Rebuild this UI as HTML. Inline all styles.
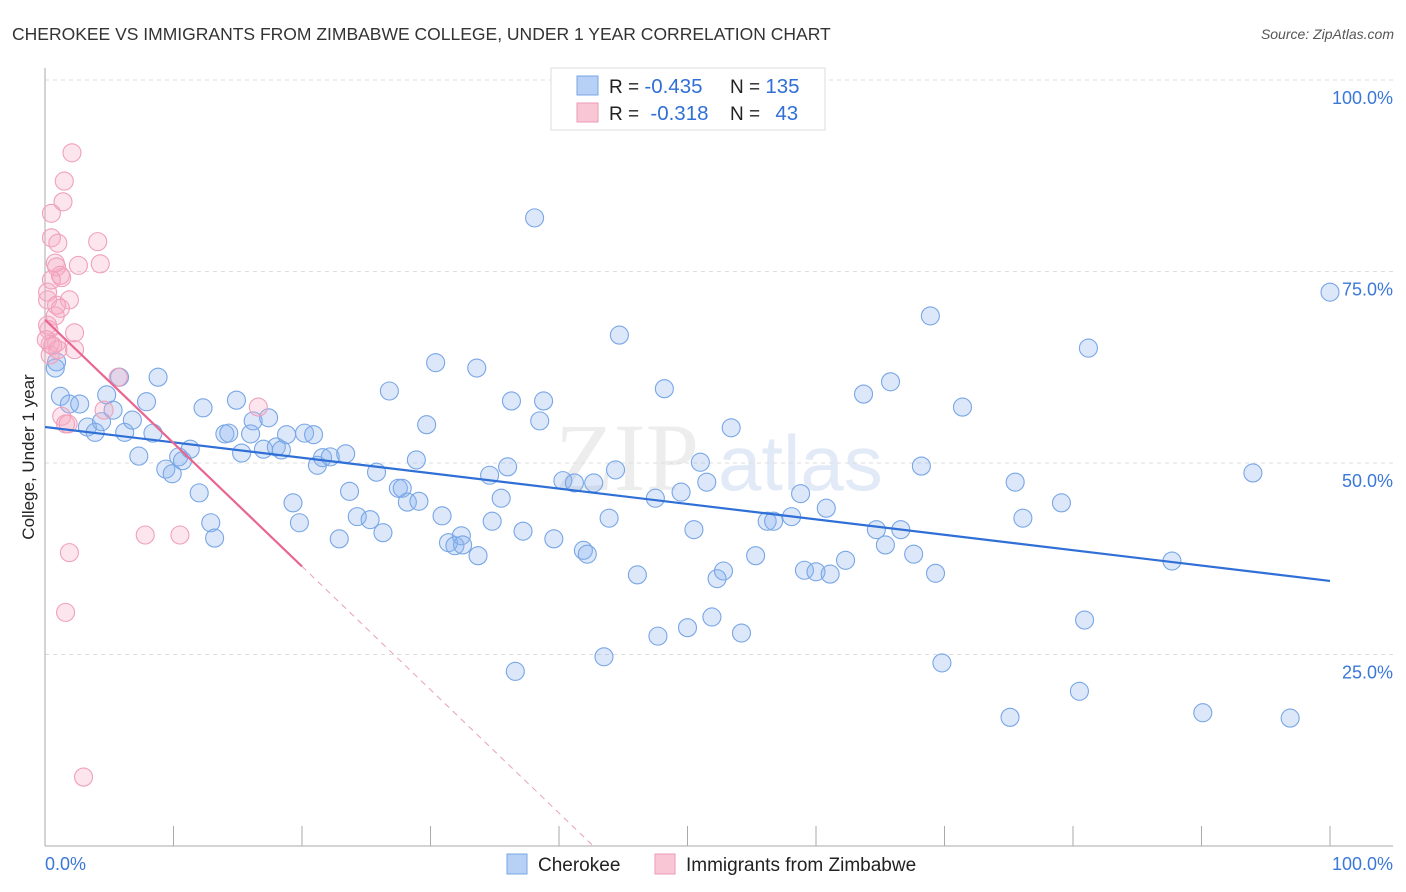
<!DOCTYPE html>
<html><head><meta charset="utf-8">
<style>
body{margin:0;background:#fff;font-family:"Liberation Sans",sans-serif;}
#wrap{position:relative;width:1406px;height:892px;overflow:hidden;}
</style></head>
<body>
<div id="wrap">
<svg id="svg" width="1406" height="892" xmlns="http://www.w3.org/2000/svg">
<text x="12" y="40" font-size="17.5" fill="#333">CHEROKEE VS IMMIGRANTS FROM ZIMBABWE COLLEGE, UNDER 1 YEAR CORRELATION CHART</text>
<text x="1394" y="39" font-size="14" fill="#555" font-style="italic" text-anchor="end">Source: ZipAtlas.com</text>
<g><text x="555" y="490" font-size="96" font-family="Liberation Serif,serif" fill="#dcdcdc" opacity="0.5">ZIP</text><text x="718" y="490" font-size="78" fill="#c4d6ee" opacity="0.5">atlas</text></g>
<g id="grid"></g>
<g id="pts"></g>
<g id="lines"></g>
<text transform="translate(34,457) rotate(-90)" font-size="17" fill="#222" text-anchor="middle">College, Under 1 year</text>
<g>
<rect x="551" y="68" width="274" height="62" fill="#fff" stroke="#ddd"/>
<rect x="577" y="76" width="21" height="19" fill="#b7d0f5" stroke="#7aa6e6"/>
<rect x="577" y="103" width="21" height="19" fill="#f9c6d5" stroke="#ee9ab5"/>
<text x="609" y="93" font-size="19" fill="#222">R = <tspan fill="#2f6fd6" font-size="20.5">-0.435</tspan></text>
<text x="730" y="93" font-size="19" fill="#222">N = <tspan fill="#2f6fd6" font-size="20.5">135</tspan></text>
<text x="609" y="120" font-size="19" fill="#222">R = <tspan fill="#2f6fd6" dx="6" font-size="20.5">-0.318</tspan></text>
<text x="730" y="120" font-size="19" fill="#222">N = <tspan fill="#2f6fd6" dx="10" font-size="20.5">43</tspan></text>
</g>
<g>
<rect x="507" y="854" width="20" height="20" fill="#b7d0f5" stroke="#7aa6e6"/>
<text x="538" y="871" font-size="19" fill="#222">Cherokee</text>
<rect x="655" y="854" width="20" height="20" fill="#f9c6d5" stroke="#ee9ab5"/>
<text x="686" y="871" font-size="19" fill="#222">Immigrants from Zimbabwe</text>
</g>
</svg>
</div>
<script>
const yTicks=[25,50,75,100];
const yTickLabels=["25.0%","50.0%","75.0%","100.0%"];
const xTicks=[0,10,20,30,40,50,60,70,80,90,100];
const xEndLabels=["0.0%","100.0%"];
const blueX=[0.8,0.9,1.2,1.9,2.7,3.3,3.9,4.4,4.8,5.3,5.8,6.2,6.8,7.3,7.9,8.4,8.8,9.4,9.9,10.4,10.7,11.3,12.0,12.3,12.9,13.2,14.0,14.3,14.9,15.3,16.0,16.2,17.0,17.4,18.0,18.4,18.8,19.3,19.8,20.2,20.9,21.2,21.6,22.2,22.9,23.4,23.7,24.3,25.3,25.8,26.3,26.8,27.5,27.8,28.2,28.9,29.1,29.7,30.4,30.9,31.4,31.9,32.4,32.5,33.6,33.7,34.6,34.8,35.5,36.0,36.3,36.6,37.2,38.1,38.5,38.8,39.6,40.3,41.2,41.9,42.2,42.7,43.5,43.9,44.4,44.7,46.1,47.5,47.7,48.2,49.5,50.0,50.5,51.0,51.5,51.9,52.3,52.8,53.4,54.2,55.3,56.2,56.7,58.1,58.8,59.1,60.0,60.8,61.1,62.3,63.7,64.7,65.4,65.8,66.6,67.6,68.2,68.9,69.3,69.8,71.4,75.1,75.5,76.1,79.1,80.5,80.9,81.2,87.7,90.1,94.0,96.9,100.0];
const blueY=[62.4,63.2,58.7,57.7,57.7,54.7,54.0,55.4,58.9,56.9,61.2,54.0,55.6,50.9,58.0,53.9,61.2,49.2,48.6,50.8,50.3,51.8,46.1,57.2,42.2,40.2,53.8,53.9,58.2,51.3,53.8,55.5,51.8,55.9,52.1,51.7,53.7,44.8,42.2,53.9,53.7,49.7,50.7,50.8,40.1,51.2,46.3,43.0,42.6,48.8,40.9,59.4,46.7,46.7,44.9,50.4,45.0,55.0,63.1,43.1,39.6,39.2,40.5,39.3,62.4,37.9,48.4,42.4,45.4,49.5,58.1,22.8,41.1,82.0,55.5,58.1,40.1,47.7,47.4,38.6,38.1,47.4,24.7,42.8,49.1,66.7,35.4,45.4,27.4,59.7,46.2,28.5,41.3,50.1,47.5,29.9,34.9,35.9,54.6,27.8,37.9,42.4,42.4,43.0,46.0,36.0,35.8,44.1,35.5,37.3,59.0,41.3,39.3,60.6,41.3,38.1,49.6,69.2,35.6,23.9,57.3,16.8,47.5,42.8,44.8,20.2,29.5,65.0,37.2,17.4,48.7,16.7,72.3];
const pinkX=[0.2,0.2,0.3,0.4,0.5,0.5,0.8,0.8,0.9,0.9,1.0,1.2,1.3,1.4,1.5,1.6,1.8,1.9,1.6,1.9,2.1,2.3,2.3,2.6,3.0,4.1,4.3,4.6,7.8,10.5,16.6,0.1,0.2,0.4,0.6,0.9,1.2,1.0,1.3,0.5,5.7];
const pinkY=[71.3,72.3,67.4,65.5,82.6,79.4,76.1,69.2,65.7,75.6,78.7,74.5,56.1,84.1,86.8,55.1,55.1,38.3,30.5,71.3,90.5,67.0,64.8,75.8,9.0,78.9,76.0,56.9,40.6,40.6,57.3,66.1,68.0,64.1,65.3,70.6,70.2,64.8,74.2,73.9,61.2];
const blueTrend=[54.7,34.6];
const pinkTrend=[68.7,-1.61];
const NS='http://www.w3.org/2000/svg';
const X0=45,X1=1330,Y0=846,Y100=80;
function sx(v){return X0+(X1-X0)*v/100;}
function sy(v){return Y0-(Y0-Y100)*v/100;}
function mk(tag,attrs,parent){const e=document.createElementNS(NS,tag);for(const k in attrs)e.setAttribute(k,attrs[k]);parent.appendChild(e);return e;}
const grid=document.getElementById('grid');
yTicks.forEach((t,i)=>{
 const l=mk('line',{x1:X0,x2:1393,y1:sy(t),y2:sy(t),stroke:'#ddd','stroke-dasharray':'4,4'},grid);
 
 
 const tx=mk('text',{x:1393,y:sy(t)+24,'font-size':18,fill:'#3a78d8','text-anchor':'end'},grid);
 tx.textContent=yTickLabels[i];
 
 
});
const ax=mk('line',{x1:X0,x2:X0,y1:68,y2:Y0,stroke:'#aaa'},grid);


const bx=mk('line',{x1:X0,x2:1393,y1:Y0,y2:Y0,stroke:'#aaa'},grid);


xTicks.forEach(t=>{
 const l=mk('line',{x1:sx(t),x2:sx(t),y1:826,y2:Y0,stroke:'#aaa'},grid);
 
 
});
const xl0=mk('text',{x:45,y:870,'font-size':18,fill:'#3a78d8'},grid);xl0.textContent=xEndLabels[0];


const xl1=mk('text',{x:1393,y:870,'font-size':18,fill:'#3a78d8','text-anchor':'end'},grid);xl1.textContent=xEndLabels[1];


const pts=document.getElementById('pts');
blueX.forEach((v,i)=>{
 const c=mk('circle',{cx:sx(v),cy:sy(blueY[i]),r:9,fill:'rgba(140,180,240,0.3)',stroke:'#78a6e6','stroke-width':1.1},pts);
 
 
});
pinkX.forEach((v,i)=>{
 const c=mk('circle',{cx:sx(v),cy:sy(pinkY[i]),r:9,fill:'rgba(245,170,195,0.3)',stroke:'#f0a0bb','stroke-width':1.1},pts);
 
 
});
const lines=document.getElementById('lines');
const bl=mk('line',{x1:sx(0),y1:sy(blueTrend[0]),x2:sx(100),y2:sy(blueTrend[1]),stroke:'#2f6fd6','stroke-width':2.2},lines);


const pe=20,pz=-pinkTrend[0]/pinkTrend[1];
const pl=mk('line',{x1:sx(0),y1:sy(pinkTrend[0]),x2:sx(pe),y2:sy(pinkTrend[0]+pinkTrend[1]*pe),stroke:'#e8668f','stroke-width':2.2},lines);


const pd=mk('line',{x1:sx(pe),y1:sy(pinkTrend[0]+pinkTrend[1]*pe),x2:sx(pz),y2:sy(0),stroke:'#e8a0b8','stroke-width':1,'stroke-dasharray':'6,5'},lines);


</script>
</body></html>
